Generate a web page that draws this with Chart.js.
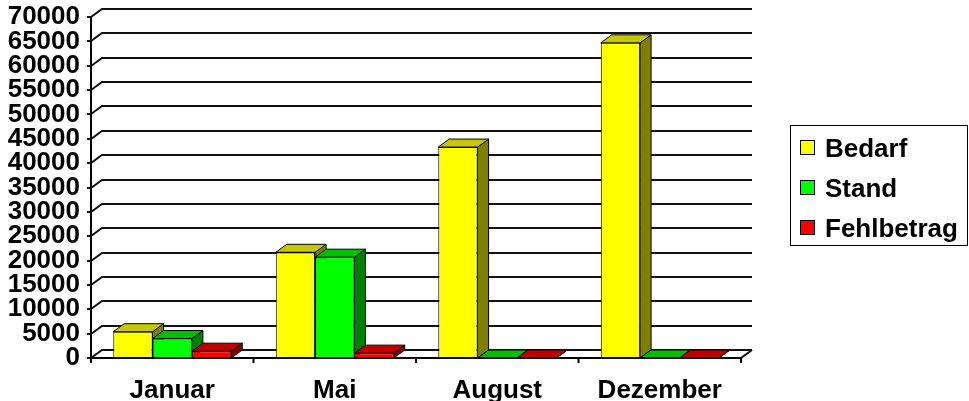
<!DOCTYPE html>
<html>
<head>
<meta charset="utf-8">
<script src="https://cdn.jsdelivr.net/npm/chart.js@4.4.1/dist/chart.umd.min.js"></script>
<style>
  html, body { margin: 0; padding: 0; background: #fff; }
  #wrap { width: 969px; height: 401px; }
</style>
</head>
<body>
<div id="wrap"><canvas id="bedarfChart" width="969" height="401"></canvas></div>
<script>
  const months = ['Januar', 'Mai', 'August', 'Dezember'];
  const seriesNames = ['Bedarf', 'Stand', 'Fehlbetrag'];
  const bedarf = [5400, 21700, 43300, 64700];
  const stand = [4000, 20700, 0, 0];
  const fehlbetrag = [1400, 1000, 0, 0];
  const yTicks = [0, 70000, 5000]; // min, max, step

  const frontColors = ['#FFFF00', '#00FF00', '#FF0000'];
  const topColors = ['#C8C800', '#00C000', '#C00000'];
  const sideColors = ['#808000', '#008000', '#800000'];

  const DX = 11, DY = 8; // depth of the 3d box
  const FONT = 'bold 26px "Liberation Sans", Arial, sans-serif';

  // walls, grid and the top/side faces of the columns
  const box3d = {
    id: 'box3d',
    beforeDatasetsDraw(chart) {
      const { ctx, chartArea: a, scales: { y } } = chart;
      ctx.save();
      ctx.strokeStyle = '#111';
      ctx.lineWidth = 2;
      // back wall grid + left wall diagonals
      for (let v = yTicks[0]; v <= yTicks[1]; v += yTicks[2]) {
        const py = Math.round(y.getPixelForValue(v));
        ctx.beginPath();
        ctx.moveTo(a.left - 4, py);
        ctx.lineTo(a.left, py);
        ctx.lineTo(a.left + DX, py - DY);
        ctx.lineTo(a.right + DX, py - DY);
        ctx.stroke();
      }
      // floor right edge
      const y0 = y.getPixelForValue(0);
      ctx.beginPath();
      ctx.moveTo(a.right, y0);
      ctx.lineTo(a.right + DX, y0 - DY);
      ctx.stroke();

      // top + side faces, bar by bar from left to right
      ctx.strokeStyle = '#000';
      ctx.lineWidth = 1;
      for (let i = 0; i < months.length; i++) {
        chart.data.datasets.forEach((ds, d) => {
          const bar = chart.getDatasetMeta(d).data[i];
          const l = bar.x - bar.width / 2, r = bar.x + bar.width / 2;
          const t = bar.y, b = bar.base;
          // side
          ctx.fillStyle = sideColors[d];
          ctx.beginPath();
          ctx.moveTo(r, t);
          ctx.lineTo(r + DX, t - DY);
          ctx.lineTo(r + DX, b - DY);
          ctx.lineTo(r, b);
          ctx.closePath();
          ctx.fill();
          ctx.stroke();
          // top
          ctx.fillStyle = topColors[d];
          ctx.beginPath();
          ctx.moveTo(l, t);
          ctx.lineTo(l + DX, t - DY);
          ctx.lineTo(r + DX, t - DY);
          ctx.lineTo(r, t);
          ctx.closePath();
          ctx.fill();
          ctx.stroke();
        });
      }
      ctx.restore();
    },
    afterDatasetsDraw(chart) {
      const { ctx, chartArea: a, scales: { x, y } } = chart;
      const y0 = y.getPixelForValue(0);
      ctx.save();
      ctx.strokeStyle = '#000';
      ctx.lineWidth = 2;
      ctx.beginPath();
      ctx.moveTo(a.left, a.top);
      ctx.lineTo(a.left, y0 + 5);
      ctx.moveTo(a.left, y0);
      ctx.lineTo(a.right, y0);
      const step = (a.right - a.left) / months.length;
      for (let i = 1; i <= months.length; i++) {
        const px = a.left + step * i;
        ctx.moveTo(px, y0);
        ctx.lineTo(px, y0 + 5);
      }
      ctx.stroke();

      // legend
      ctx.lineWidth = 1;
      ctx.strokeRect(790.5, 125.5, 177, 120);
      ctx.font = FONT;
      ctx.textBaseline = 'alphabetic';
      seriesNames.forEach((name, d) => {
        const top = 140 + d * 40;
        ctx.fillStyle = frontColors[d];
        ctx.fillRect(800, top, 15, 15);
        ctx.strokeRect(800.5, top + 0.5, 14, 14);
        ctx.fillStyle = '#000';
        ctx.fillText(name, 825, top + 17);
      });
      ctx.restore();
    }
  };

  const ctx = document.getElementById('bedarfChart').getContext('2d');
  const series = [bedarf, stand, fehlbetrag];

  new Chart(ctx, {
    type: 'bar',
    data: {
      labels: months,
      datasets: series.map((vals, d) => ({
        label: seriesNames[d],
        data: vals,
        backgroundColor: frontColors[d],
        borderColor: '#000',
        borderWidth: 1,
        borderSkipped: false,
        categoryPercentage: 0.726,
        barPercentage: 1.0
      }))
    },
    options: {
      responsive: false,
      animation: false,
      layout: { padding: { top: 17, right: 228, bottom: 0, left: 0 } },
      plugins: {
        legend: { display: false },
        tooltip: { enabled: false }
      },
      scales: {
        x: {
          grid: { display: false, drawTicks: false },
          border: { display: false },
          ticks: {
            color: '#000',
            padding: 20,
            maxRotation: 0,
            font: { family: '"Liberation Sans", Arial, sans-serif', size: 26, weight: 'bold', lineHeight: 1 }
          },
          afterFit: s => { s.height = 43; s.paddingLeft = 0; s.paddingRight = 0; }
        },
        y: {
          min: yTicks[0],
          max: yTicks[1],
          grid: { display: false, drawTicks: false },
          border: { display: false },
          ticks: {
            stepSize: yTicks[2],
            autoSkip: false,
            color: '#000',
            padding: 11,
            callback: v => String(v),
            font: { family: '"Liberation Sans", Arial, sans-serif', size: 26, weight: 'bold', lineHeight: 1 }
          },
          afterFit: s => { s.width = 91; s.paddingTop = 0; s.paddingBottom = 0; }
        }
      }
    },
    plugins: [box3d]
  });
</script>
</body>
</html>
